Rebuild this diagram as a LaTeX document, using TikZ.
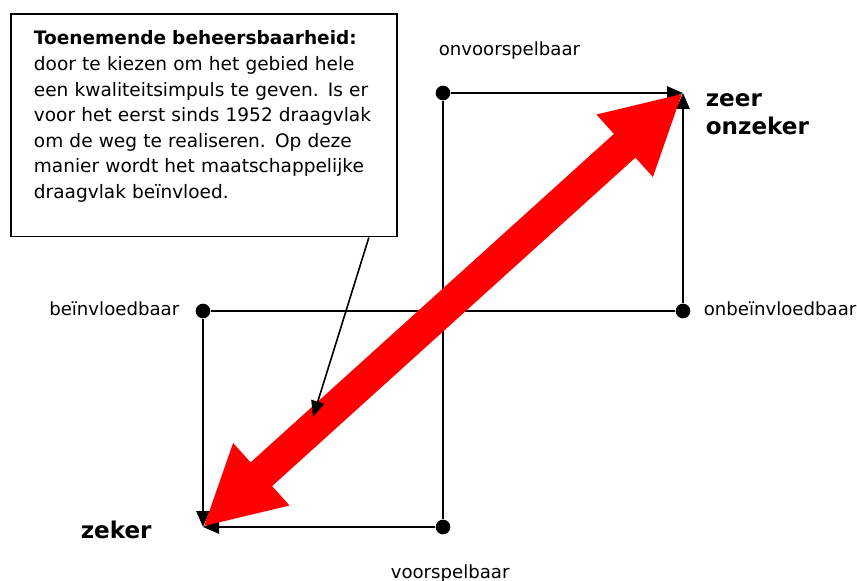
\documentclass[tikz,border=0pt]{standalone}
\usepackage{fontspec}
\setmainfont{DejaVu Sans}
\usetikzlibrary{arrows.meta}

\begin{document}
\begin{tikzpicture}[x=0.75pt, y=-0.75pt, line width=1.2pt,
  every node/.style={inner sep=0pt},
  dot/.style={circle, fill=black, minimum size=11pt},
  lbl/.style={font=\fontsize{13.6pt}{16pt}\selectfont},
  sterk/.style={font=\fontsize{17.3pt}{21pt}\selectfont\bfseries},
  pijl/.style={-{Triangle[length=12pt,width=10pt]}},
  rood/.style={draw=red, line width=24pt,
    {Triangle[length=59pt,width=58.5pt]}-{Triangle[length=59pt,width=58.5pt]}}]

\useasboundingbox (0,0) rectangle (857,581);

% Nodes
\node[dot] (T) at (443,93) {};
\node[dot] (R) at (683,311) {};
\node[dot] (L) at (203,311) {};
\node[dot] (B) at (443,527) {};
\coordinate (TR) at (683,93);
\coordinate (BL) at (203,527);

% Edges
\draw (T) -- (B);
\draw (L) -- (R);
\draw[pijl] (T) -- (TR);
\draw[pijl] (R) -- (TR);
\draw[pijl] (L) -- (BL);
\draw[pijl] (B) -- (BL);

\draw[rood] (BL) -- (TR);

% Labels
\node[lbl, anchor=base west] at (438,56) {onvoorspelbaar};
\node[lbl, anchor=base west] at (390,578) {voorspelbaar};
\node[lbl, anchor=base east] at (180,315) {beïnvloedbaar};
\node[lbl, anchor=base west] at (703,315) {onbeïnvloedbaar};

\node[sterk, anchor=base west] at (705,107) {zeer};
\node[sterk, anchor=base west] at (705,135) {onzeker};
\node[sterk, anchor=base west] at (80,538) {zeker};

% Toelichting
\node[draw, line width=1.4pt, anchor=north west, align=left,
  text width=255pt, inner xsep=17.25pt, inner ysep=12.7pt, text depth=131pt,
  font=\fontsize{13.9pt}{19.2pt}\selectfont] (uitleg) at (10,13)
  {\textbf{Toenemende beheersbaarheid:}\\
   door te kiezen om het gebied hele\\
   een kwaliteitsimpuls te geven. Is er\\
   voor het eerst sinds 1952 draagvlak\\
   om de weg te realiseren. Op deze\\
   manier wordt het maatschappelijke\\
   draagvlak beïnvloed.};
\coordinate (doel) at (313,417);
\draw[pijl] ([xshift=-21.75pt]uitleg.south east) -- (doel);

\end{tikzpicture}
\end{document}
